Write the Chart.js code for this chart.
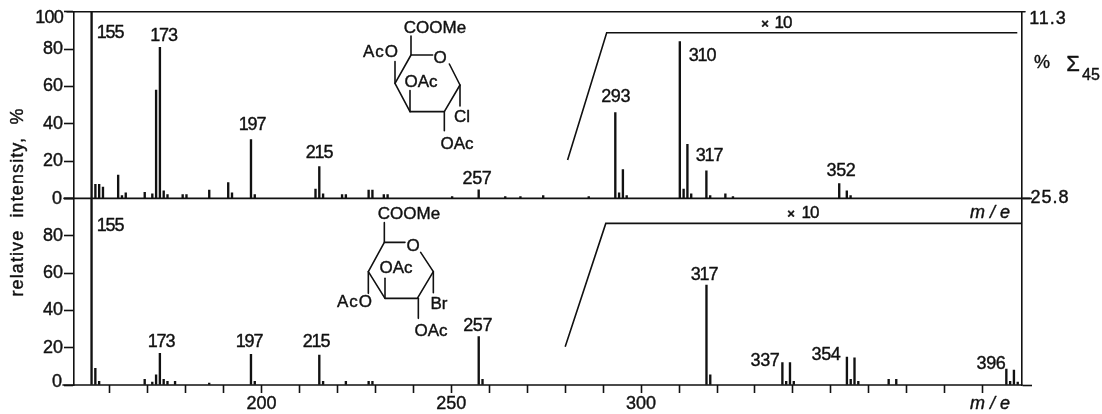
<!DOCTYPE html>
<html><head><meta charset="utf-8">
<style>html,body{margin:0;padding:0;background:#fff;overflow:hidden}canvas{display:block}</style>
<script src="https://cdn.jsdelivr.net/npm/chart.js@4"></script>
</head><body>
<canvas id="c" width="1102" height="414"></canvas>
<script>
// Peak m/z and relative intensity, upper spectrum
const topMz =  [155,156,157,158,162,163,164,169,171,172,173,174,175,179,180,186,191,192,197,198,214,215,216,221,222,228,229,232,233,250,257,264,268,274,286,293,294,295,296,310,311,312,313,317,318,322,324,352,354,355];
const topInt = [100,7.5,7.5,6,12.5,1.5,3,3.2,2.5,58,81,4,2,2,2,4.5,8.5,3,31.5,2,5,17,2.5,2,2,4.5,4.5,2,2,1,4.6,1,1,1.5,1,46,3,15.4,1.5,84,5,29,2.5,14.8,1.5,2.5,1,8,4,1.5];
// Peak m/z and relative intensity, lower spectrum
const botMz =  [155,156,157,169,171,172,173,174,175,177,186,197,198,215,216,222,228,229,257,258,317,318,337,338,339,340,354,355,356,357,365,367,396,397,398,399];
const botInt = [100,9,2,3,1.5,5.5,17,3,2,2,1,16.5,2,16,2,2,2,2,26,3,53.5,5.5,12,2,12,2,15,3,14.5,2,3,3,8.5,2,8,1.5];
// "x10" gain traces
const topGainMz = [280.2,290.5,398.7];
const topGainY  = [20.6,88.8,88.8];
const botGainMz = [280,290.7,400.3];
const botGainY  = [20.5,86.6,86.6];
// Axis labels
const yTickVals = [0,20,40,60,80,100];
const xTickVals = [160,170,180,190,200,210,220,230,240,250,260,270,280,290,300,310,320,330,340,350,360,370,380,390];
const xTickLabels = {200:'200',250:'250',300:'300'};
const rightTickVals = [0,100];
const rightLabels = ['25.8','11.3'];

const FONT = '"Liberation Sans"';
const INK = '#111';

function toPts(xs, ys){ return xs.map((x,i)=>({x, y:ys[i]})); }

const annot = {
  id:'annot',
  afterDraw(chart){
    const ctx = chart.ctx;
    const yT = chart.scales.yTop, yB = chart.scales.yBot;
    ctx.save();
    ctx.strokeStyle = INK; ctx.fillStyle = INK; ctx.lineCap='round'; ctx.lineJoin='round';
    function line(pts, w){
      ctx.lineWidth = w||1.6; ctx.beginPath();
      pts.forEach((p,i)=> i? ctx.lineTo(p[0],p[1]) : ctx.moveTo(p[0],p[1]));
      ctx.stroke();
    }
    line([[67,yT.getPixelForValue(100)],[1025,yT.getPixelForValue(100)]]);
    line([[64,yT.getPixelForValue(0)],[1030,yT.getPixelForValue(0)]]);
    line([[63,yB.getPixelForValue(0)],[1022,yB.getPixelForValue(0)]]);
    function t(s,x,y,size,opt){
      opt=opt||{};
      ctx.font=(opt.style?opt.style+' ':'')+size+'px '+FONT;
      ctx.textAlign=opt.align||'center'; ctx.textBaseline='middle';
      ctx.letterSpacing=opt.ls||'0px';
      ctx.fillText(s,x,y);
      ctx.lineWidth=0.4; ctx.strokeText(s,x,y);
      ctx.letterSpacing='0px';
    }
    t('100',63,18,18,{align:'right',ls:'-0.8px'});
    t('0',62,199,18,{align:'right'});
    t('0',62,382,18,{align:'right'});
    t(rightLabels[1],1048,19,18,{ls:'1px'});
    t(rightLabels[0],1050,198,18,{ls:'1px'});
    [['155',110,33],['173',163.5,36],['197',252,125],['215',319,153],['257',477,179],['293',615.7,97],['310',702,56],['317',709,156],['352',841,171],
     ['155',110,226],['173',161,342],['197',249,342],['215',316,342],['257',477.7,326],['317',704,275],['337',765,361],['354',826,355],['396',991,364]]
      .forEach(a=>t(a[0],a[1],a[2],18,{ls:a[0].includes('1')?'-1.2px':'-0.3px'}));
    t('×',765,24,13,{style:'bold'}); t('10',783,23,17,{ls:'-1px'});
    t('×',791,214,13,{style:'bold'}); t('10',810,213,17,{ls:'-1px'});
    t('m / e',990,213,18,{style:'italic'});
    t('m / e',990,404,18,{style:'italic'});
    t('%',1042,63,18);
    t('Σ',1073,65,22);
    t('45',1091,76,16);
    ctx.save();
    ctx.translate(18,202); ctx.rotate(-Math.PI/2);
    t('relative  intensity,  %',0,0,18,{ls:'1.1px'});
    ctx.restore();
    const ox=360, oy=0, z=1/3;
    function L(pts,ox,oy){ line(pts.map(p=>[ox+p[0]*z,oy+p[1]*z]),1.6); }
    L([[153,108],[153,165],[218,165]],ox,oy);
    L([[268,192],[300,255],[253,335],[150,335],[105,250],[153,165]],ox,oy);
    L([[105,250],[105,185]],ox,oy);
    L([[150,335],[150,272]],ox,oy);
    L([[300,255],[300,318]],ox,oy);
    L([[253,335],[253,392]],ox,oy);
    t('COOMe',435,28,17);
    t('O',440,58,17);
    t('AcO',381,52,17,{ls:'1px'});
    t('OAc',421,82,17);
    t('Cl',462,117,17);
    t('OAc',457,144,17);
    const py=200;
    L([[73,68],[73,127],[135,127]],ox,py);
    L([[182,157],[220,215],[172,295],[75,295],[25,215],[73,127]],ox,py);
    L([[25,215],[25,280]],ox,py);
    L([[75,295],[75,235]],ox,py);
    L([[220,215],[220,278]],ox,py);
    L([[175,295],[175,355]],ox,py);
    t('COOMe',409,214,17);
    t('O',413,246,17);
    t('AcO',355,302,17,{ls:'1px'});
    t('OAc',396,268,17);
    t('Br',439,304,17);
    t('OAc',431,331,17);
    ctx.restore();
  }
};

const tickFont = {family:FONT,size:18};
function yAxis(stack,pos,extra){
  return Object.assign({
    type:'linear', position:pos, stack:stack, stackWeight:1, min:0, max:100, display:true,
    border:{display:true,color:INK,width:1.6},
    grid:{drawOnChartArea:false,drawTicks:true,tickLength:10,tickColor:INK,tickWidth:1.6},
    afterFit(s){ s.width = pos==='left'?74:80; }
  },extra);
}
const leftTicks = {font:tickFont,color:INK,padding:1,autoSkip:false,textStrokeWidth:0.4,textStrokeColor:INK,callback:v=>(v===0||v===100)?'':String(v)};

new Chart(document.getElementById('c'),{
  data:{datasets:[
    {type:'bar',data:toPts(topMz,topInt),xAxisID:'xTop',yAxisID:'yTop',backgroundColor:INK,barThickness:1.7},
    {type:'bar',data:toPts(botMz,botInt),xAxisID:'xBot',yAxisID:'yBot',backgroundColor:INK,barThickness:1.7},
    {type:'line',data:toPts(topGainMz,topGainY),xAxisID:'xTop',yAxisID:'yTop',borderColor:INK,borderWidth:1.6,pointRadius:0,tension:0},
    {type:'line',data:toPts(botGainMz,botGainY),xAxisID:'xBot',yAxisID:'yBot',borderColor:INK,borderWidth:1.6,pointRadius:0,tension:0}
  ]},
  options:{
    responsive:false,animation:false,devicePixelRatio:1,
    layout:{padding:{top:10.5,left:0,right:0,bottom:0}},
    plugins:{legend:{display:false},tooltip:{enabled:false},title:{display:false}},
    scales:{
      xTop:{type:'linear',display:false,min:150.14,max:399.94,offset:false},
      xBot:{type:'linear',position:'bottom',min:150.6,max:400.35,offset:false,
        afterBuildTicks(s){ s.ticks = xTickVals.map(v=>({value:v})); },
        afterFit(s){ s.height = 29; },
        border:{display:false},
        grid:{drawOnChartArea:false,offset:false,tickLength:8,tickColor:INK,tickWidth:1.6},
        ticks:{autoSkip:false,maxRotation:0,font:tickFont,color:INK,padding:0,textStrokeWidth:0.4,textStrokeColor:INK,callback:v=>xTickLabels[v]||''}
      },
      yBot:yAxis('L','left',{
        afterBuildTicks(s){ s.ticks = yTickVals.map(v=>({value:v})); },
        ticks:leftTicks
      }),
      yTop:yAxis('L','left',{
        afterBuildTicks(s){ s.ticks = yTickVals.map(v=>({value:v})); },
        ticks:leftTicks
      }),
      yBotR:yAxis('R','right',{
        grid:{display:false},
        afterBuildTicks(s){ s.ticks = []; },
        ticks:{display:false}
      }),
      yTopR:yAxis('R','right',{
        afterBuildTicks(s){ s.ticks = rightTickVals.map(v=>({value:v})); },
        ticks:{display:false}
      })
    }
  },
  plugins:[annot]
});
</script>
</body></html>
